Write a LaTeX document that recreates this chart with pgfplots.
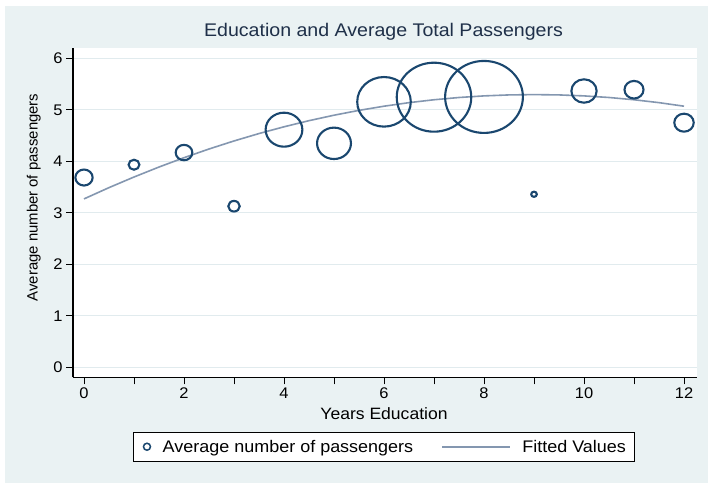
\documentclass[border=0pt]{standalone}
\usepackage{fontspec}
\setmainfont{Liberation Sans}[FakeStretch=1.07]
\newfontfamily\ylabfont{Liberation Sans}
\usepackage{pgfplots}
\usepackage{pgfplotstable}
\pgfplotsset{compat=1.18}
\definecolor{bgc}{HTML}{EAF2F3}
\definecolor{gridc}{HTML}{E1EBEE}
\definecolor{navy}{HTML}{1A476F}
\definecolor{fitc}{HTML}{8497B0}
\definecolor{titc}{HTML}{1F3049}
\pgfplotstableread{
x y r
0 3.685 8
1 3.934 5
2 4.17 7.7
3 3.128 5.3
4 4.614 17
5 4.349 15.7
6 5.155 24.8
7 5.245 34.5
8 5.25 36
9 3.36 2.6
10 5.365 11.7
11 5.39 8.8
12 4.75 9
}\bubbles
\pgfplotstableread{
x y
0 3.27
0.5 3.489
1 3.695
1.5 3.889
2 4.07
2.5 4.239
3 4.395
3.5 4.539
4 4.67
4.5 4.789
5 4.895
5.5 4.989
6 5.07
6.5 5.139
7 5.195
7.5 5.239
8 5.27
8.5 5.289
9 5.295
9.5 5.289
10 5.27
10.5 5.239
11 5.195
11.5 5.139
12 5.07
}\fitted
\begin{document}
\begin{tikzpicture}[x=1pt,y=1pt]
\useasboundingbox (0,0) rectangle (708,483);
\fill[white] (0,0) rectangle (708,483);
\fill[bgc] (5,0) rectangle (708,477);
\begin{axis}[
  at={(73pt,105.7pt)}, anchor=south west, scale only axis,
  width=624pt, height=329.3pt,
  xmin=-0.22, xmax=12.26, ymin=-0.194, ymax=6.2,
  axis lines*=left, axis line style={-, black, line width=1.1pt},
  axis background/.style={fill=white},
  xtick={0,2,...,12}, minor xtick={1,3,...,11}, ytick={0,...,6},
  tick align=outside, major tick length=7pt, minor tick length=7pt,
  tick style={black, line width=1pt},
  ymajorgrids, major grid style={gridc, line width=1.2pt},
  /pgf/number format/assume math mode=true,
  ticklabel style={font=\fontsize{15.4}{18}\selectfont},
  title={Education and Average Total Passengers},
  title style={at={(axis description cs:0.4976,1.0173)}, anchor=base, font=\fontsize{18.3}{22}\selectfont, text=titc, inner sep=0pt},
  xlabel={Years Education},
  xlabel style={at={(axis description cs:0.4984,-0.1275)}, anchor=base, font=\fontsize{16.4}{19}\selectfont, inner sep=0pt},
  ylabel={Average number of passengers},
  ylabel style={at={(axis description cs:-0.0627,0.546)}, anchor=center, font=\ylabfont\fontsize{14.9}{17}\selectfont, inner sep=0pt},
  legend columns=2,
  legend style={at={(axis description cs:0.4989,-0.2108)}, anchor=center, draw=black, line width=1pt, fill=white,
    inner xsep=9pt, inner ysep=7.6pt, font=\fontsize{16.8}{20}\selectfont,
    nodes={inner sep=0pt},
    /tikz/every odd column/.append style={column sep=11.5pt},
    /tikz/every even column/.append style={column sep=28pt}},
]
\addplot[only marks, mark=o, navy, line width=2.1pt,
  scatter, scatter/use mapped color={draw=navy},
  mark options={xscale=1.08, line width=2.1pt},
  visualization depends on={\thisrow{r}\as\rad},
  scatter/@pre marker code/.append style={/tikz/mark size=\rad, /tikz/line width=2.1pt},
  legend image code/.code={\draw[navy, line width=1.5pt] (3.5pt,0pt) circle[radius=3.5pt];}]
  table[x=x,y=y] {\bubbles};
\addlegendentry{Average number of passengers}
\addplot[no marks, fitc, line width=1.6pt,
  legend image code/.code={\draw[fitc, line width=1.6pt] (0pt,0pt) -- (68pt,0pt);}]
  table[x=x,y=y] {\fitted};
\addlegendentry{Fitted Values}
\end{axis}
\end{tikzpicture}
\end{document}
